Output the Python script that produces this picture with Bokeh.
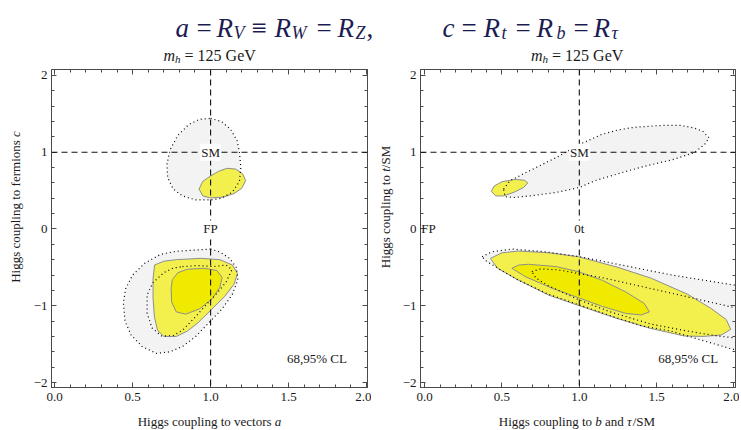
import math
from bokeh.plotting import figure
from bokeh.models import Range1d, Span, Label, LinearAxis, FixedTicker, CustomLabelingPolicy
from bokeh.layouts import column, row
from bokeh.embed import file_html
from bokeh.resources import INLINE

SERIF = "Liberation Serif"

# ---------------- data ----------------
X_MAJOR = [0.0, 0.5, 1.0, 1.5, 2.0]
X_MINOR = [0.1, 0.2, 0.3, 0.4, 0.6, 0.7, 0.8, 0.9, 1.1, 1.2, 1.3, 1.4,
           1.6, 1.7, 1.8, 1.9]
X_TICK_LABELS = {0: "0.0", 0.5: "0.5", 1: "1.0", 1.5: "1.5", 2: "2.0"}
Y_MAJOR = [-2, -1, 0, 1, 2]
Y_MINOR = [-1.8, -1.6, -1.4, -1.2, -0.8, -0.6, -0.4, -0.2, 0.2, 0.4, 0.6,
           0.8, 1.2, 1.4, 1.6, 1.8]
Y_TICK_LABELS = {-2: "\u22122", -1: "\u22121", 0: "0", 1: "1", 2: "2"}

# Left panel (a, c) contours
LU_GRAY_X = [1.0, 1.07, 1.127, 1.17, 1.185, 1.194, 1.185, 1.14, 1.07, 1.0, 0.90, 0.82, 0.76, 0.725, 0.72, 0.74, 0.79, 0.86, 0.93]
LU_GRAY_Y = [1.44, 1.40, 1.30, 1.15, 1.0, 0.80, 0.62, 0.48, 0.40, 0.378, 0.38, 0.43, 0.52, 0.67, 0.84, 1.03, 1.22, 1.36, 1.43]
LU_Y95_X = [0.926, 0.95, 1.0, 1.05, 1.105, 1.16, 1.205, 1.225, 1.20, 1.15, 1.08, 1.0, 0.95]
LU_Y95_Y = [0.52, 0.62, 0.69, 0.75, 0.79, 0.78, 0.72, 0.63, 0.53, 0.46, 0.415, 0.405, 0.43]

LL_GRAY_X = [1.0, 0.90, 0.78, 0.68, 0.578, 0.50, 0.455, 0.441, 0.451, 0.49, 0.56, 0.652, 0.74, 0.82, 0.90, 0.98, 1.07, 1.14, 1.175, 1.165, 1.12, 1.06]
LL_GRAY_Y = [-0.262, -0.275, -0.29, -0.33, -0.447, -0.60, -0.78, -0.96, -1.20, -1.38, -1.53, -1.62, -1.60, -1.53, -1.41, -1.24, -1.05, -0.85, -0.66, -0.50, -0.38, -0.30]
LL_Y95_X = [0.641, 0.70, 0.78, 0.937, 1.06, 1.14, 1.173, 1.15, 1.09, 1.0, 0.92, 0.852, 0.78, 0.70, 0.66, 0.64, 0.631, 0.631]
LL_Y95_Y = [-0.469, -0.42, -0.40, -0.383, -0.40, -0.47, -0.58, -0.72, -0.88, -1.06, -1.22, -1.329, -1.40, -1.40, -1.32, -1.15, -0.90, -0.65]
LL_Y68_X = [0.747, 0.755, 0.79, 0.85, 0.958, 1.04, 1.074, 1.06, 1.01, 0.93, 0.84, 0.78, 0.75]
LL_Y68_Y = [-0.77, -0.66, -0.57, -0.525, -0.512, -0.54, -0.63, -0.76, -0.91, -1.04, -1.11, -1.08, -0.95]
LL_IN_X = [0.82, 0.916, 1.02, 1.10, 1.137, 1.10, 1.04, 0.98, 0.90, 0.82, 0.76, 0.684, 0.625, 0.593, 0.593, 0.63, 0.70, 0.76]
LL_IN_Y = [-0.49, -0.477, -0.49, -0.47, -0.53, -0.69, -0.84, -0.97, -1.15, -1.32, -1.39, -1.393, -1.29, -1.10, -0.86, -0.70, -0.57, -0.51]

# Right panel (b and tau, t) contours
RU_GRAY_X = [0.51, 0.553, 0.65, 0.75, 0.85, 0.93, 1.0, 1.143, 1.25, 1.357, 1.5, 1.572, 1.65, 1.743, 1.80, 1.839, 1.81, 1.743, 1.6, 1.45, 1.314, 1.1, 1.0, 0.85, 0.70, 0.58, 0.52]
RU_GRAY_Y = [0.52, 0.63, 0.73, 0.83, 0.93, 1.02, 1.10, 1.23, 1.29, 1.325, 1.345, 1.35, 1.35, 1.316, 1.27, 1.187, 1.10, 0.994, 0.90, 0.83, 0.757, 0.628, 0.54, 0.475, 0.435, 0.41, 0.42]
RU_Y95_X = [0.431, 0.45, 0.50, 0.585, 0.645, 0.667, 0.64, 0.58, 0.51, 0.46]
RU_Y95_Y = [0.49, 0.56, 0.615, 0.645, 0.635, 0.60, 0.54, 0.48, 0.43, 0.43]

RL_GRAY_X = [0.371, 0.435, 0.564, 0.778, 1.003, 1.271, 1.593, 1.99, 2.1, 2.1, 1.99, 1.807, 1.593, 1.40, 1.20, 1.0, 0.80, 0.60, 0.48, 0.40]
RL_GRAY_Y = [-0.361, -0.297, -0.262, -0.297, -0.361, -0.469, -0.598, -0.727, -0.76, -1.60, -1.566, -1.458, -1.33, -1.26, -1.13, -0.99, -0.85, -0.66, -0.52, -0.42]
RL_Y95_X = [0.425, 0.5, 0.607, 0.8, 0.993, 1.25, 1.464, 1.7, 1.85, 1.95, 1.979, 1.92, 1.80, 1.678, 1.45, 1.25, 1.0, 0.80, 0.60, 0.47]
RL_Y95_Y = [-0.383, -0.31, -0.288, -0.31, -0.361, -0.5, -0.641, -0.85, -1.032, -1.18, -1.307, -1.38, -1.40, -1.394, -1.29, -1.17, -1.0, -0.86, -0.66, -0.51]
RL_Y68_X = [0.564, 0.607, 0.671, 0.85, 0.993, 1.15, 1.30, 1.42, 1.453, 1.40, 1.30, 1.15, 1.0, 0.821, 0.65]
RL_Y68_Y = [-0.512, -0.47, -0.46, -0.49, -0.555, -0.67, -0.82, -0.97, -1.08, -1.12, -1.10, -1.01, -0.90, -0.77, -0.62]
RL_IN_X = [0.693, 0.75, 0.864, 1.164, 1.593, 1.99, 2.1, 2.1, 1.99, 1.893, 1.70, 1.464, 1.20, 0.993, 0.80, 0.72]
RL_IN_Y = [-0.555, -0.52, -0.533, -0.641, -0.835, -1.019, -1.07, -1.44, -1.415, -1.394, -1.33, -1.24, -1.08, -0.92, -0.74, -0.64]

SM_POINT = (1.0, 1.0)
LEFT_FP_POINT = (1.0, 0.0)
RIGHT_FP_POINT = (0.025, 0.0)
RIGHT_0T_POINT = (1.0, 0.0)
CL_TEXT = "68,95% CL"
LEFT_CL_POS = (1.49, -1.69)
RIGHT_CL_POS = (1.51, -1.69)

# axis labels: (text, italic, advance width in em of a Times-metric font)
LEFT_XLABEL = [("Higgs coupling to vectors", False, 10.555), ("a", True, 0.5)]
LEFT_YLABEL = [("Higgs coupling to fermions", False, 11.222), ("c", True, 0.444)]
RIGHT_XLABEL = [("Higgs coupling to", False, 7.417), ("b", True, 0.75),
                ("and", False, 1.694), ("\u03c4", True, 0.44), ("/SM", False, 1.723)]
RIGHT_YLABEL = [("Higgs coupling to", False, 7.417), ("t", True, 0.278),
                ("/SM", False, 1.723)]

# ---------------- style / layout ----------------
GRAY_FILL = "#f3f3f3"
Y95_FILL = "#f3f04e"
Y68_FILL = "#efea00"
EDGE = "#8e8e8e"
AXIS_COL = "#4a4a4a"
TEXT_COL = "#1a1a1a"
TITLE_COL = "#1c1c52"
FS = 13  # px

Y_RANGE = (-2.065, 2.077)
MB_TOP, FRAME_H, MB_BOT = 1, 321, 20
PH = MB_TOP + FRAME_H + MB_BOT          # 342
TH = 65                                  # title strip height
XH = 22                                  # x-label strip height
YL1_W, YL2_W = 30, 28                    # y-label strip widths
P1_MBL, P1_FW, P1_MBR = 19, 320, 2
P2_MBL, P2_FW, P2_MBR = 19, 317, 4
P1_W = P1_MBL + P1_FW + P1_MBR
P2_W = P2_MBL + P2_FW + P2_MBR
TOTAL_W = YL1_W + P1_W + YL2_W + P2_W

HIDE = CustomLabelingPolicy(code="""
for (const i of indices) { indices.unset(i) }
return indices
""")


def blank(width, height):
    f = figure(width=width, height=height, x_range=Range1d(0, width),
               y_range=Range1d(0, height), output_backend="svg",
               toolbar_location=None, min_border=0)
    f.axis.visible = False
    f.xgrid.visible = False
    f.ygrid.visible = False
    f.outline_line_color = None
    return f


def style_axis(ax, show_labels, is_x):
    ax.ticker = FixedTicker(ticks=X_MAJOR if is_x else Y_MAJOR,
                            minor_ticks=X_MINOR if is_x else Y_MINOR)
    ax.axis_line_color = AXIS_COL
    ax.major_tick_line_color = AXIS_COL
    ax.minor_tick_line_color = AXIS_COL
    ax.major_tick_in = 5
    ax.major_tick_out = 0
    ax.minor_tick_in = 3
    ax.minor_tick_out = 0
    ax.axis_label = None
    if show_labels:
        ax.major_label_text_font = SERIF
        ax.major_label_text_font_size = f"{FS}px"
        ax.major_label_text_color = TEXT_COL
        ax.major_label_standoff = 5 if is_x else 4
        ax.major_label_overrides = X_TICK_LABELS if is_x else Y_TICK_LABELS
    else:
        ax.major_label_text_font_size = "1px"
        ax.major_label_standoff = 0
        ax.major_label_policy = HIDE


def add_pieces(p, pieces, cx, cy, vertical):
    total = sum(w for _, _, w in pieces) * FS
    pos = (cy if vertical else cx) - total / 2.0
    for txt, ital, w in pieces:
        if vertical:
            lab = Label(x=cx, y=pos, angle=math.pi / 2, angle_units="rad",
                        text_baseline="middle")
        else:
            lab = Label(x=pos, y=cy, text_baseline="alphabetic")
        lab.x_units = "screen"
        lab.y_units = "screen"
        lab.text = txt
        lab.text_align = "left"
        lab.text_font = SERIF
        lab.text_font_size = f"{FS}px"
        lab.text_font_style = "italic" if ital else "normal"
        lab.text_color = TEXT_COL
        p.add_layout(lab)
        pos += w * FS


def make_panel(width, xr, mbl, mbr):
    p = figure(width=width, height=PH, x_range=Range1d(*xr),
               y_range=Range1d(*Y_RANGE), output_backend="svg",
               toolbar_location=None, min_border_left=mbl,
               min_border_right=mbr, min_border_top=MB_TOP, min_border_bottom=MB_BOT)
    p.xgrid.visible = False
    p.ygrid.visible = False
    p.outline_line_color = AXIS_COL
    p.background_fill_color = "white"
    style_axis(p.xaxis[0], True, True)
    style_axis(p.yaxis[0], True, False)
    top = LinearAxis()
    style_axis(top, False, True)
    p.add_layout(top, "above")
    right = LinearAxis()
    style_axis(right, False, False)
    p.add_layout(right, "right")
    return p


def fill(p, xs, ys, color, outline=None):
    p.patch(xs, ys, fill_color=color, line_color=outline, line_width=1)


def dotted(p, xs, ys):
    p.patch(xs, ys, fill_color=None, line_color="black", line_width=1.2,
            line_dash="1 3")


def cross_and_labels(p, labels, cl_pos):
    p.add_layout(Span(location=SM_POINT[0], dimension="height", line_color="#111111",
                      line_dash="6 4", line_width=1.1))
    p.add_layout(Span(location=SM_POINT[1], dimension="width", line_color="#111111",
                      line_dash="6 4", line_width=1.1))
    for (x, y), txt, bg in labels:
        p.add_layout(Label(x=x, y=y, text=txt, text_font=SERIF, text_font_size=f"{FS}px",
                           text_color=TEXT_COL, text_align="center",
                           text_baseline="middle",
                           background_fill_color="white" if bg else None,
                           padding=1))
    p.add_layout(Label(x=cl_pos[0], y=cl_pos[1], text=CL_TEXT, text_font=SERIF,
                       text_font_size=f"{FS}px", text_color=TEXT_COL,
                       text_align="left", text_baseline="middle"))


# ---------------- left panel ----------------
p1 = make_panel(P1_W, (-0.02, 2.006), P1_MBL, P1_MBR)
fill(p1, LU_GRAY_X, LU_GRAY_Y, GRAY_FILL)
fill(p1, LL_GRAY_X, LL_GRAY_Y, GRAY_FILL)
fill(p1, LU_Y95_X, LU_Y95_Y, Y95_FILL, EDGE)
fill(p1, LL_Y95_X, LL_Y95_Y, Y95_FILL, EDGE)
fill(p1, LL_Y68_X, LL_Y68_Y, Y68_FILL, EDGE)
dotted(p1, LU_GRAY_X, LU_GRAY_Y)
dotted(p1, LL_GRAY_X, LL_GRAY_Y)
dotted(p1, LL_IN_X, LL_IN_Y)
cross_and_labels(p1, [(SM_POINT, "SM", True), (LEFT_FP_POINT, "FP", True)], LEFT_CL_POS)

# ---------------- right panel ----------------
p2 = make_panel(P2_W, (-0.027, 2.01), P2_MBL, P2_MBR)
fill(p2, RU_GRAY_X, RU_GRAY_Y, GRAY_FILL)
fill(p2, RL_GRAY_X, RL_GRAY_Y, GRAY_FILL)
fill(p2, RU_Y95_X, RU_Y95_Y, Y95_FILL, EDGE)
fill(p2, RL_Y95_X, RL_Y95_Y, Y95_FILL, EDGE)
fill(p2, RL_Y68_X, RL_Y68_Y, Y68_FILL, EDGE)
dotted(p2, RU_GRAY_X, RU_GRAY_Y)
dotted(p2, RL_GRAY_X, RL_GRAY_Y)
dotted(p2, RL_IN_X, RL_IN_Y)
cross_and_labels(p2, [(SM_POINT, "SM", True), (RIGHT_FP_POINT, "FP", False),
                      (RIGHT_0T_POINT, "0t", True)], RIGHT_CL_POS)

# ---------------- y-label strips ----------------
frame_cy = PH - MB_TOP - FRAME_H / 2.0
yl1 = blank(YL1_W, PH)
add_pieces(yl1, LEFT_YLABEL, 15, frame_cy, True)
yl2 = blank(YL2_W, PH)
add_pieces(yl2, RIGHT_YLABEL, 14, frame_cy, True)

# ---------------- x-label strips ----------------
xl1 = blank(YL1_W + P1_W, XH)
add_pieces(xl1, LEFT_XLABEL, YL1_W + P1_MBL + P1_FW / 2.0, 8, False)
xl2 = blank(YL2_W + P2_W, XH)
add_pieces(xl2, RIGHT_XLABEL, YL2_W + P2_MBL + P2_FW / 2.0, 8, False)

# ---------------- title strip (title + subtitles) ----------------
pt = blank(TOTAL_W, TH)
# (text, x position in px, style: 'i' italic, 'n' upright, 's' subscript)
TITLE_PIECES = [("a", 175, "i"), ("=", 196, "n"), ("R", 216, "i"), ("V", 233, "s"),
                ("\u2261", 251, "n"), ("R", 274, "i"), ("W", 291, "s"), ("=", 316, "n"),
                ("R", 337, "i"), ("Z", 355, "s"), (",", 366, "n"),
                ("c", 442, "i"), ("=", 461, "n"), ("R", 483, "i"), ("t", 501, "s"),
                ("=", 515, "n"), ("R", 536, "i"), ("b", 556, "s"), ("=", 573, "n"),
                ("R", 593, "i"), ("\u03c4", 611, "s")]
for txt, xpos, st in TITLE_PIECES:
    if st == "s":
        size, ypos, style = "18px", TH - 32, "italic"
    else:
        size, ypos, style = "27px", TH - 27, ("italic" if st == "i" else "normal")
    pt.add_layout(Label(x=xpos, y=ypos, x_units="screen", y_units="screen", text=txt,
                        text_font=SERIF, text_font_style=style, text_font_size=size,
                        text_color=TITLE_COL, text_baseline="alphabetic"))

centers = [YL1_W + P1_MBL + P1_FW / 2.0,
           YL1_W + P1_W + YL2_W + P2_MBL + P2_FW / 2.0]
yb = TH - 55
for cx in centers:
    x0 = cx - 46
    pt.add_layout(Label(x=x0, y=yb, x_units="screen", y_units="screen", text="m",
                        text_font=SERIF, text_font_style="italic", text_font_size="16px",
                        text_color=TEXT_COL, text_baseline="alphabetic"))
    pt.add_layout(Label(x=x0 + 11.6, y=yb - 3, x_units="screen", y_units="screen", text="h",
                        text_font=SERIF, text_font_style="italic", text_font_size="11px",
                        text_color=TEXT_COL, text_baseline="alphabetic"))
    pt.add_layout(Label(x=x0 + 21.1, y=yb, x_units="screen", y_units="screen", text="= 125 GeV",
                        text_font=SERIF, text_font_size="16px",
                        text_color=TEXT_COL, text_baseline="alphabetic"))

layout = column(pt, row(yl1, p1, yl2, p2), row(xl1, xl2))
open("out.html", "w").write(file_html(layout, INLINE))
